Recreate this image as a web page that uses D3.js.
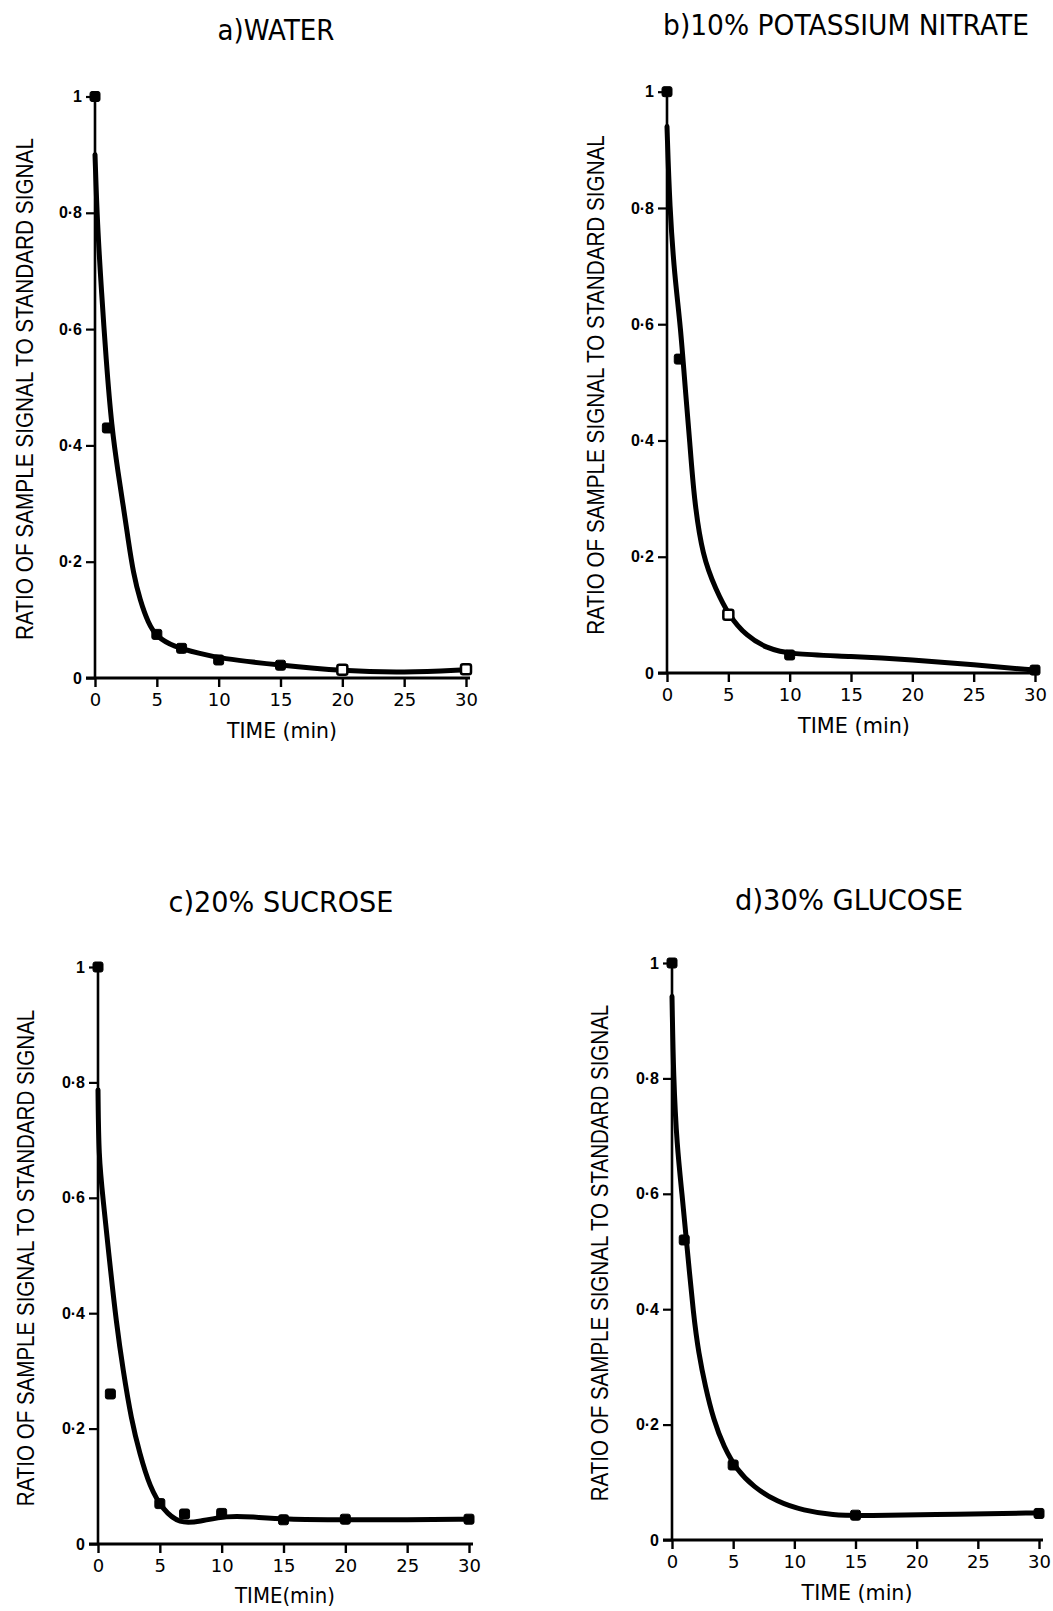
<!DOCTYPE html>
<html><head><meta charset="utf-8">
<script src="https://cdn.jsdelivr.net/npm/d3@7"></script>
<style>body{margin:0;background:#fff}</style>
</head><body>
<svg id="chart" width="1053" height="1611"></svg>
<script>
// ---------- data ----------
const panelTitles = ["a)WATER", "b)10% POTASSIUM NITRATE", "c)20% SUCROSE", "d)30% GLUCOSE"];
const xAxisTitles = ["TIME (min)", "TIME (min)", "TIME(min)", "TIME (min)"];
const yAxisTitle = "RATIO OF SAMPLE SIGNAL TO STANDARD SIGNAL";
const xTickValues = [0, 5, 10, 15, 20, 25, 30];
const yTickValues = [0, 0.2, 0.4, 0.6, 0.8, 1];
const yTickLabels = ["0", "0·2", "0·4", "0·6", "0·8", "1"];

// a) water
const timeA = [0, 1, 5, 7, 10, 15, 20, 30];
const ratioA = [1.0, 0.43, 0.075, 0.051, 0.031, 0.022, 0.014, 0.015];
const hollowA = [20, 30];
const fitTimeA = [0, 0.19, 0.54, 0.89, 1.35, 1.89, 2.29, 2.69, 3.1, 3.64, 4.31, 4.98, 6.33, 8.5, 10, 15, 20, 25, 30];
const fitRatioA = [0.90, 0.78, 0.66, 0.55, 0.43, 0.35, 0.295, 0.237, 0.18, 0.134, 0.094, 0.071, 0.054, 0.042, 0.034, 0.022, 0.012, 0.009, 0.014];

// b) 10% potassium nitrate
const timeB = [0, 1, 5, 10, 30];
const ratioB = [1.0, 0.54, 0.10, 0.031, 0.005];
const hollowB = [5];
const fitTimeB = [0, 0.22, 0.63, 1.09, 1.52, 1.85, 2.2, 2.9, 4.0, 5.0, 6.5, 8.1, 10, 15, 20, 25, 30];
const fitRatioB = [0.94, 0.80, 0.68, 0.60, 0.48, 0.40, 0.30, 0.20, 0.143, 0.10, 0.063, 0.043, 0.032, 0.029, 0.023, 0.014, 0.005];

// c) 20% sucrose
const timeC = [0, 1, 5, 7, 10, 15, 20, 30];
const ratioC = [1.0, 0.26, 0.070, 0.052, 0.053, 0.042, 0.043, 0.043];
const hollowC = [];
const fitTimeC = [0, 0.06, 0.4, 0.95, 1.49, 2.02, 2.7, 3.37, 4.18, 5.25, 6.6, 8.2, 10.4, 12.5, 15, 20, 25, 30];
const fitRatioC = [0.787, 0.67, 0.60, 0.487, 0.382, 0.302, 0.215, 0.157, 0.099, 0.059, 0.035, 0.039, 0.049, 0.047, 0.043, 0.042, 0.042, 0.043];

// d) 30% glucose
const timeD = [0, 1, 5, 15, 30];
const ratioD = [1.0, 0.52, 0.13, 0.043, 0.046];
const hollowD = [];
const fitTimeD = [0, 0.12, 0.41, 0.82, 1.22, 1.77, 2.18, 2.72, 3.4, 4.22, 5.31, 6.67, 8.58, 10.75, 13.2, 15.4, 23.6, 30];
const fitRatioD = [0.942, 0.80, 0.682, 0.60, 0.51, 0.387, 0.324, 0.266, 0.208, 0.162, 0.121, 0.092, 0.066, 0.051, 0.043, 0.042, 0.045, 0.047];

// ---------- layout ----------
const frames = [
  {x0: 95,  x1: 466,  yb: 678,  yt: 96.5, tX: 276, tY: 40,  tW: 117, lX: 24,  lY: 389,  lW: 502, xtX: 282, xtY: 738,  xtW: 110},
  {x0: 667, x1: 1035, yb: 673,  yt: 91.7, tX: 846, tY: 35,  tW: 366, lX: 595, lY: 385,  lW: 500, xtX: 854, xtY: 733,  xtW: 112},
  {x0: 98,  x1: 469,  yb: 1544, yt: 967,  tX: 281, tY: 912, tW: 225, lX: 25,  lY: 1258, lW: 497, xtX: 285, xtY: 1603, xtW: 100},
  {x0: 672, x1: 1039, yb: 1540, yt: 963,  tX: 849, tY: 910, tW: 228, lX: 599, lY: 1253, lW: 497, xtX: 857, xtY: 1600, xtW: 111}
];
const series = [
  {t: timeA, r: ratioA, h: hollowA, ft: fitTimeA, fr: fitRatioA},
  {t: timeB, r: ratioB, h: hollowB, ft: fitTimeB, fr: fitRatioB},
  {t: timeC, r: ratioC, h: hollowC, ft: fitTimeC, fr: fitRatioC},
  {t: timeD, r: ratioD, h: hollowD, ft: fitTimeD, fr: fitRatioD}
];

const svg = d3.select("#chart");
const letterFont = "'DejaVu Sans', 'Noto Sans', sans-serif";
const labelFont = "'Liberation Sans', Arial, sans-serif";

// places a text centred at (cx, cy-baseline), squeezed horizontally to a target width
function fittedText(parent, str, cx, cy, width, size, family, rotate) {
  const outer = parent.append("g");
  const inner = outer.append("g");
  const t = inner.append("text").attr("x", 0).attr("y", 0).attr("text-anchor", "middle")
    .attr("font-family", family).attr("font-size", size).attr("fill", "#000").text(str);
  const natural = t.node().getComputedTextLength();
  const k = natural > 0 ? width / natural : 1;
  inner.attr("transform", `scale(${k},1)`);
  outer.attr("transform", `translate(${cx},${cy})` + (rotate ? ` rotate(${rotate})` : ""));
  return t;
}

frames.forEach((f, i) => {
  const s = series[i];
  const x = d3.scaleLinear().domain([0, 30]).range([f.x0, f.x1]);
  const y = d3.scaleLinear().domain([0, 1]).range([f.yb, f.yt]);
  const g = svg.append("g");

  // title
  fittedText(g, panelTitles[i], f.tX, f.tY, f.tW, 29, letterFont);

  // x axis
  const xAxis = d3.axisBottom(x).tickValues(xTickValues).tickSize(9).tickSizeOuter(0).tickFormat(d3.format("d"));
  const gx = g.append("g").attr("transform", `translate(0,${f.yb})`).call(xAxis);
  gx.select(".domain").attr("stroke", "#000").attr("stroke-width", 3.2)
    .attr("d", `M${f.x0 - 9},0H${f.x1 + 4}`);
  gx.selectAll(".tick line").attr("stroke", "#000").attr("stroke-width", 2.4);
  gx.selectAll(".tick text").attr("font-family", letterFont).attr("font-size", 18)
    .attr("fill", "#000").attr("y", 15).attr("dy", "0.71em");

  // y axis
  const yAxis = d3.axisLeft(y).tickValues(yTickValues).tickSize(9).tickSizeOuter(0)
    .tickFormat((d, k) => yTickLabels[k]);
  const gy = g.append("g").attr("transform", `translate(${f.x0},0)`).call(yAxis);
  gy.select(".domain").attr("stroke", "#000").attr("stroke-width", 2.6)
    .attr("d", `M0,${f.yt}V${f.yb}`);
  gy.selectAll(".tick line").attr("stroke", "#000").attr("stroke-width", 2.2);
  gy.selectAll(".tick text").attr("font-family", labelFont).attr("font-weight", "bold")
    .attr("font-size", 16).attr("fill", "#000").attr("x", -13);

  // axis titles
  fittedText(g, xAxisTitles[i], f.xtX, f.xtY, f.xtW, 22, letterFont);
  fittedText(g, yAxisTitle, f.lX + 9, f.lY, f.lW, 24, labelFont, -90);

  // fitted curve
  const fit = s.ft.map((t, k) => [t, s.fr[k]]);
  g.append("path").datum(fit)
    .attr("fill", "none").attr("stroke", "#000").attr("stroke-width", 5)
    .attr("stroke-linecap", "round").attr("stroke-linejoin", "round")
    .attr("d", d3.line().x(d => x(d[0])).y(d => y(d[1])).curve(d3.curveBasis));

  // measured points
  const pts = s.t.map((t, k) => ({t, r: s.r[k], hollow: s.h.includes(t)}));
  g.selectAll("rect.pt").data(pts).join("rect").attr("class", "pt")
    .attr("x", d => x(d.t) - 5).attr("y", d => y(d.r) - 5)
    .attr("width", 10).attr("height", 10).attr("rx", 2)
    .attr("fill", d => d.hollow ? "#fff" : "#000")
    .attr("stroke", "#000").attr("stroke-width", d => d.hollow ? 2.5 : 1);
});
</script>
</body></html>
